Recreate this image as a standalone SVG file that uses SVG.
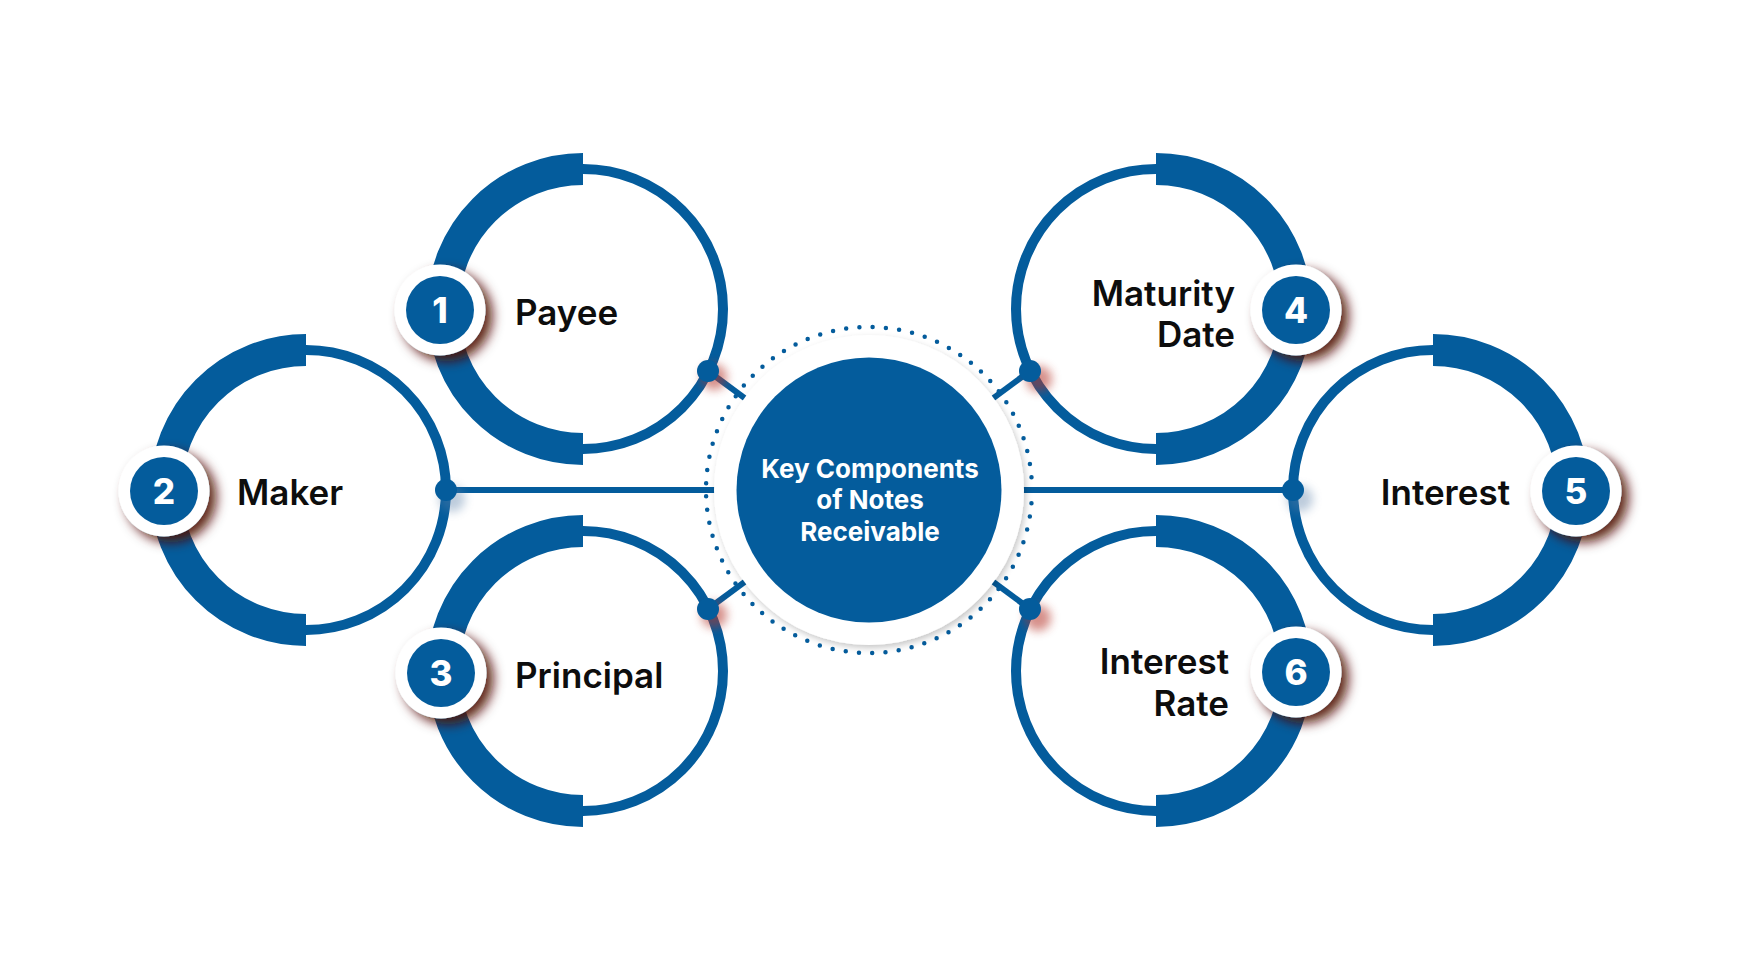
<svg xmlns="http://www.w3.org/2000/svg" width="1742" height="980" viewBox="0 0 1742 980">
  <defs>
    <style>
      .ring { fill: #ffffff; stroke: #045c9c; stroke-width: 10; }
      .arc { fill: none; stroke: #045c9c; stroke-width: 32; stroke-linecap: butt; }
      .conn { stroke: #045c9c; stroke-width: 6; fill: none; }
      .dot { fill: #045c9c; }
      .glow { fill: #b5352a; opacity: 0.55; }
      .glowb { fill: #5a7fa8; opacity: 0.4; }
      .bw { fill: #ffffff; }
      .bb { fill: #045c9c; }
      .num { font-family: Inter, "Liberation Sans", sans-serif; font-weight: 800; font-size: 35px; fill: #ffffff; text-anchor: middle; }
      .lbl { font-family: Inter, "Liberation Sans", sans-serif; font-weight: 600; font-size: 35px; fill: #0d0d0d; }
      .ctr { font-family: Inter, "Liberation Sans", sans-serif; font-weight: 700; font-size: 26px; fill: #ffffff; text-anchor: middle; }
    </style>
    <filter id="badgeShadow" x="-60%" y="-60%" width="220%" height="220%">
      <feDropShadow dx="7" dy="6" stdDeviation="6" flood-color="#4f0f06" flood-opacity="0.9"/>
    </filter>
    <filter id="blur" x="-100%" y="-100%" width="300%" height="300%">
      <feGaussianBlur stdDeviation="5"/>
    </filter>
    <filter id="diskShadow" x="-20%" y="-20%" width="140%" height="140%">
      <feDropShadow dx="2" dy="3" stdDeviation="3" flood-color="#000000" flood-opacity="0.22"/>
    </filter>
  </defs>

  <rect width="1742" height="980" fill="#ffffff"/>

  <g id="connectors">
    <line class="conn" x1="708" y1="371" x2="869" y2="490"/>
    <line class="conn" x1="708" y1="609" x2="869" y2="490"/>
    <line class="conn" x1="1030" y1="371" x2="869" y2="490"/>
    <line class="conn" x1="1030" y1="609" x2="869" y2="490"/>
    <line class="conn" x1="446" y1="490" x2="869" y2="490"/>
    <line class="conn" x1="1293" y1="490" x2="869" y2="490"/>
  </g>

  <g id="center">
    <circle cx="869" cy="490" r="163" fill="none" stroke="#045c9c" stroke-width="4.5" stroke-linecap="round" stroke-dasharray="0 13.301"/>
    <circle cx="869" cy="490" r="155" fill="#ffffff" filter="url(#diskShadow)"/>
    <circle cx="869" cy="490" r="132.5" fill="#045c9c"/>
    <text class="ctr" x="870" y="478">Key Components</text>
    <text class="ctr" x="870" y="509">of Notes</text>
    <text class="ctr" x="870" y="541">Receivable</text>
  </g>

  <g id="node1">
    <circle class="ring" cx="583" cy="309" r="140"/>
    <path class="arc" d="M583 169 A140 140 0 0 0 583 449"/>
    <circle class="glow" cx="714" cy="377" r="13" filter="url(#blur)"/>
    <circle class="dot" cx="708" cy="371" r="11"/>
    <circle class="bw" cx="440" cy="310" r="45.5" filter="url(#badgeShadow)"/>
    <circle class="bb" cx="440" cy="310" r="34"/>
    <text class="num" x="440" y="322.5">1</text>
    <text class="lbl" x="515" y="325">Payee</text>
  </g>

  <g id="node2">
    <circle class="ring" cx="306" cy="490" r="140"/>
    <path class="arc" d="M306 350 A140 140 0 0 0 306 630"/>
    <circle class="glowb" cx="452" cy="499" r="13" filter="url(#blur)"/>
    <circle class="dot" cx="446" cy="490" r="11"/>
    <circle class="bw" cx="164" cy="491" r="45.5" filter="url(#badgeShadow)"/>
    <circle class="bb" cx="164" cy="491" r="34"/>
    <text class="num" x="164" y="503.5">2</text>
    <text class="lbl" x="237" y="505">Maker</text>
  </g>

  <g id="node3">
    <circle class="ring" cx="583" cy="671" r="140"/>
    <path class="arc" d="M583 531 A140 140 0 0 0 583 811"/>
    <circle class="glow" cx="714" cy="615" r="13" filter="url(#blur)"/>
    <circle class="dot" cx="708" cy="609" r="11"/>
    <circle class="bw" cx="441" cy="673" r="45.5" filter="url(#badgeShadow)"/>
    <circle class="bb" cx="441" cy="673" r="34"/>
    <text class="num" x="441" y="685.5">3</text>
    <text class="lbl" x="515" y="688">Principal</text>
  </g>

  <g id="node4">
    <circle class="ring" cx="1156" cy="309" r="140"/>
    <path class="arc" d="M1156 169 A140 140 0 0 1 1156 449"/>
    <circle class="glow" cx="1039" cy="379" r="13" filter="url(#blur)"/>
    <circle class="dot" cx="1030" cy="371" r="11"/>
    <circle class="bw" cx="1296" cy="310" r="45.5" filter="url(#badgeShadow)"/>
    <circle class="bb" cx="1296" cy="310" r="34"/>
    <text class="num" x="1296" y="322.5">4</text>
    <text class="lbl" x="1235" y="306" text-anchor="end">Maturity</text>
    <text class="lbl" x="1235" y="347" text-anchor="end">Date</text>
  </g>

  <g id="node5">
    <circle class="ring" cx="1433" cy="490" r="140"/>
    <path class="arc" d="M1433 350 A140 140 0 0 1 1433 630"/>
    <circle class="glowb" cx="1300" cy="499" r="13" filter="url(#blur)"/>
    <circle class="dot" cx="1293" cy="490" r="11"/>
    <circle class="bw" cx="1576" cy="491" r="45.5" filter="url(#badgeShadow)"/>
    <circle class="bb" cx="1576" cy="491" r="34"/>
    <text class="num" x="1576" y="503.5">5</text>
    <text class="lbl" x="1510" y="505" text-anchor="end">Interest</text>
  </g>

  <g id="node6">
    <circle class="ring" cx="1156" cy="671" r="140"/>
    <path class="arc" d="M1156 531 A140 140 0 0 1 1156 811"/>
    <circle class="glow" cx="1038" cy="618" r="13" filter="url(#blur)"/>
    <circle class="dot" cx="1030" cy="609" r="11"/>
    <circle class="bw" cx="1296" cy="672" r="45.5" filter="url(#badgeShadow)"/>
    <circle class="bb" cx="1296" cy="672" r="34"/>
    <text class="num" x="1296" y="684.5">6</text>
    <text class="lbl" x="1229" y="674" text-anchor="end">Interest</text>
    <text class="lbl" x="1229" y="716" text-anchor="end">Rate</text>
  </g>
</svg>
